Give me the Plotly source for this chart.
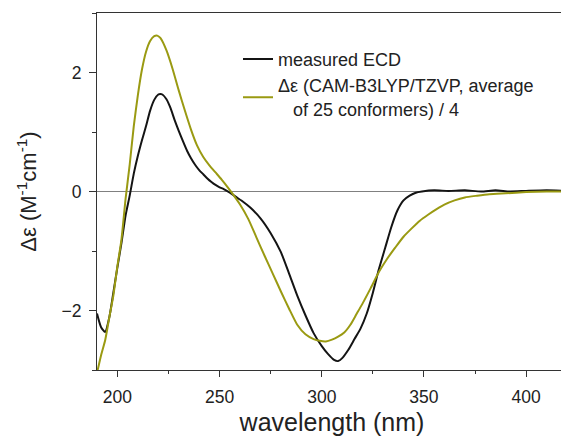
import plotly.graph_objects as go

# measured ECD
wl_meas = [190, 192, 194, 196, 198, 200, 202, 204, 206, 208, 210, 212, 214, 216, 218, 220, 221, 222,
           224, 226, 228, 230, 232, 234, 236, 238, 240, 242, 244, 246, 248, 250, 252, 255, 258, 261,
           265, 270, 275, 280, 284, 288, 292, 296, 300, 303, 306, 308, 310, 313, 316, 319, 322, 325,
           328, 331, 334, 337, 340, 343, 346, 349, 355, 362, 370, 378, 385, 392, 400, 410, 420]
de_meas = [-2.05, -2.28, -2.36, -2.12, -1.70, -1.27, -0.86, -0.40, -0.07, 0.30, 0.60, 0.86, 1.10,
           1.36, 1.54, 1.63, 1.64, 1.63, 1.55, 1.40, 1.20, 1.02, 0.85, 0.69, 0.56, 0.45, 0.36, 0.29,
           0.22, 0.16, 0.11, 0.07, 0.04, -0.02, -0.09, -0.16, -0.27, -0.45, -0.70, -1.02, -1.38,
           -1.75, -2.08, -2.38, -2.60, -2.73, -2.83, -2.85, -2.80, -2.66, -2.48, -2.30, -2.05, -1.70,
           -1.30, -0.95, -0.60, -0.32, -0.15, -0.07, -0.02, 0.0, 0.02, 0.01, 0.02, 0.0, 0.02, 0.0,
           0.01, 0.02, 0.01]

# calculated (CAM-B3LYP/TZVP) / 4
wl_calc = [190, 192, 194, 196, 198, 200, 202, 204, 206, 208, 210, 212, 214, 216, 218, 219.5, 221,
           224, 227, 230, 233, 236, 239, 242, 245, 248, 251, 254, 257, 260, 264, 268, 272, 276, 280,
           284, 288, 292, 296, 299, 302, 305, 308, 311, 314, 317, 320, 324, 328, 332, 336, 340, 344,
           348, 352, 356, 360, 365, 370, 376, 382, 390, 400, 410, 420]
de_calc = [-3.05, -2.75, -2.50, -2.12, -1.75, -1.25, -0.80, -0.12, 0.45, 1.10, 1.62, 2.05, 2.35,
           2.53, 2.61, 2.62, 2.58, 2.37, 2.06, 1.70, 1.36, 1.04, 0.77, 0.58, 0.44, 0.32, 0.20, 0.07,
           -0.07, -0.22, -0.46, -0.77, -1.08, -1.38, -1.68, -1.97, -2.24, -2.40, -2.48, -2.51,
           -2.52, -2.49, -2.44, -2.37, -2.24, -2.06, -1.88, -1.62, -1.35, -1.13, -0.94, -0.76,
           -0.62, -0.49, -0.39, -0.30, -0.22, -0.15, -0.10, -0.07, -0.045, -0.03, -0.01, 0.0, 0.0]

x_ticks = [200, 250, 300, 350, 400]
y_ticks = [-2, 0, 2]

FONT = "Liberation Sans, Arial, sans-serif"

fig = go.Figure()
fig.add_trace(go.Scatter(x=wl_meas, y=de_meas, mode="lines", name="measured ECD",
                         line=dict(color="#141414", width=2, shape="spline", smoothing=0.6)))
fig.add_trace(go.Scatter(x=wl_calc, y=de_calc, mode="lines",
                         name="Δε (CAM-B3LYP/TZVP, average<br>\u00a0\u00a0\u00a0of 25 conformers) / 4",
                         line=dict(color="#9a9a12", width=2, shape="spline", smoothing=0.6)))

# the page body has an 8px margin, so the figure is sized/offset to compensate
fig.update_layout(
    width=561, height=428,
    margin=dict(l=89, r=2, t=5, b=66),
    paper_bgcolor="white", plot_bgcolor="white",
    font=dict(family=FONT, color="#222", size=17.5),
    showlegend=True,
    legend=dict(x=0.30, y=0.922, xanchor="left", yanchor="top",
                bgcolor="rgba(0,0,0,0)", font=dict(size=18, color="#222"),
                tracegroupgap=0, itemwidth=30),
    xaxis=dict(range=[190, 420], tickvals=x_ticks, ticks="outside", ticklen=6, tickwidth=1,
               tickcolor="#333", showline=True, linecolor="#333", linewidth=1.2, mirror=True,
               showgrid=False, zeroline=False, automargin=False,
               minor=dict(dtick=25, tick0=200, ticks="outside", ticklen=3, tickcolor="#333"),
               ticklabelstandoff=5,
               title=dict(text="wavelength (nm)", font=dict(size=25, color="#222"), standoff=9)),
    yaxis=dict(range=[-3, 3], tickvals=y_ticks, ticks="outside", ticklen=7, tickwidth=1,
               tickcolor="#333", showline=True, linecolor="#333", linewidth=1.2, mirror=False,
               showgrid=False, zeroline=True, zerolinecolor="#808080", zerolinewidth=1.3,
               automargin=False,
               minor=dict(dtick=1, tick0=-3, ticks="outside", ticklen=4, tickcolor="#333"),
               ticklabelstandoff=4,
               title=dict(text="Δε (M<sup>-1</sup>cm<sup>-1</sup>)", font=dict(size=22, color="#222"),
                          standoff=18)),
)

fig.write_html("out.html")
